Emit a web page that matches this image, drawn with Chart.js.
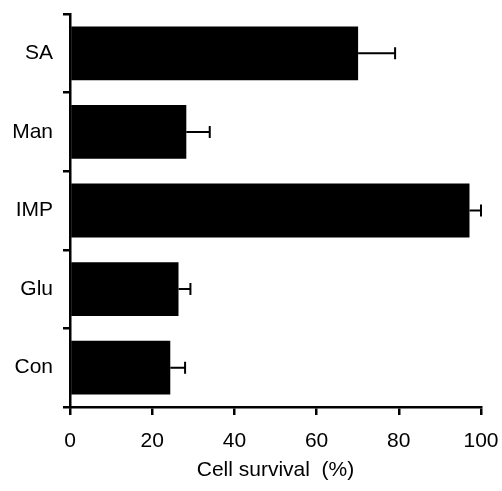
<!DOCTYPE html>
<html>
<head>
<meta charset="utf-8">
<script src="https://cdn.jsdelivr.net/npm/chart.js@4"></script>
<style>
html,body{margin:0;padding:0;background:#fff;}
#wrap{width:502px;height:491px;position:relative;}
</style>
</head>
<body>
<div id="wrap"><canvas id="c" width="502" height="491"></canvas></div>
<script>
const categories = ['SA', 'Man', 'IMP', 'Glu', 'Con'];
const survival = [70.1, 28.3, 97.2, 26.4, 24.4];
const errors = [9.0, 5.7, 2.8, 2.9, 3.6];
const xTicks = [0, 20, 40, 60, 80, 100];
const xTitle = 'Cell survival  (%)';

const FONT = "'Liberation Sans', Arial, Helvetica, sans-serif";

const errorBars = {
  id: 'errorBars',
  afterDatasetsDraw(chart) {
    const ctx = chart.ctx;
    const meta = chart.getDatasetMeta(0);
    const xs = chart.scales.x;
    ctx.save();
    ctx.strokeStyle = '#000';
    ctx.lineWidth = 2;
    meta.data.forEach((bar, i) => {
      const x0 = bar.x;
      const x1 = xs.getPixelForValue(survival[i] + errors[i]);
      const y = bar.y;
      ctx.beginPath();
      ctx.moveTo(x0, y);
      ctx.lineTo(x1, y);
      ctx.moveTo(x1, y - 6);
      ctx.lineTo(x1, y + 6);
      ctx.stroke();
    });
    ctx.restore();
  }
};

new Chart(document.getElementById('c'), {
  type: 'bar',
  data: {
    labels: categories,
    datasets: [{
      data: survival,
      backgroundColor: '#000',
      borderWidth: 0,
      barPercentage: 0.685,
      categoryPercentage: 1.0
    }]
  },
  options: {
    indexAxis: 'y',
    responsive: false,
    animation: false,
    devicePixelRatio: 1,
    layout: { padding: { top: 14, right: 21, bottom: 8, left: 0 } },
    plugins: { legend: { display: false }, tooltip: { enabled: false } },
    scales: {
      x: {
        min: 0, max: 100,
        afterBuildTicks(scale) { scale.ticks = xTicks.map(v => ({ value: v })); },
        grid: { drawOnChartArea: false, drawTicks: true, tickLength: 8, color: '#000', lineWidth: 2.5 },
        border: { display: true, color: '#000', width: 2.5 },
        ticks: { color: '#000', font: { family: FONT, size: 21 }, padding: 14, maxRotation: 0 },
        title: { display: true, text: xTitle, color: '#000', font: { family: FONT, size: 21 }, padding: { top: 0, bottom: 0 } },
        afterFit(scale) {
          scale.height = 491 - 407 - 8;
          scale.paddingLeft = 0;
          scale.paddingRight = 0;
        }
      },
      y: {
        offset: true,
        grid: { offset: true, drawOnChartArea: false, drawTicks: true, tickLength: 7, color: '#000', lineWidth: 2.5 },
        border: { display: true, color: '#000', width: 2.5 },
        ticks: { color: '#000', font: { family: FONT, size: 21 }, padding: 10 },
        afterFit(scale) {
          scale.width = 70;
          scale.paddingTop = 0;
          scale.paddingBottom = 0;
        }
      }
    }
  },
  plugins: [errorBars]
});
</script>
</body>
</html>
